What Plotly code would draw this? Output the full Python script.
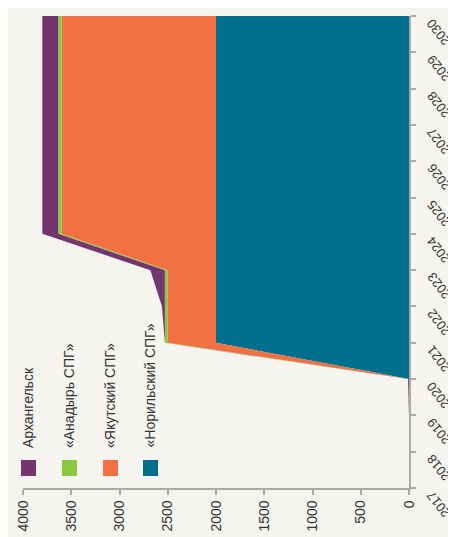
import plotly.graph_objects as go

years = [2017, 2018, 2019, 2020, 2021, 2022, 2023, 2024, 2025, 2026, 2027, 2028, 2029, 2030]
norilsk = [0, 0, 0, 0, 2000, 2000, 2000, 2000, 2000, 2000, 2000, 2000, 2000, 2000]
yakutsk = [0, 0, 0, 0, 500, 500, 500, 1600, 1600, 1600, 1600, 1600, 1600, 1600]
anadyr = [0, 0, 0, 0, 30, 30, 30, 35, 35, 35, 35, 35, 35, 35]
arkhangelsk = [0, 0, 0, 10, 0, 30, 150, 165, 165, 165, 165, 165, 165, 165]

series = [
    ("«Норильский СПГ»", norilsk, "#006f8e"),
    ("«Якутский СПГ»", yakutsk, "#f37043"),
    ("«Анадырь СПГ»", anadyr, "#8cc63f"),
    ("Архангельск", arkhangelsk, "#74366f"),
]
value_ticks = [0, 500, 1000, 1500, 2000, 2500, 3000, 3500, 4000]

# page is 456x537, the html body has an 8px margin
PAGE_W, PAGE_H = 456, 537
OFF = 8
W, H = PAGE_W - OFF, PAGE_H - OFF
# plot area in page pixels: x 23..409, y 16..488
PX0, PX1, PY0, PY1 = 23, 409, 16, 488
L, T = PX0 - OFF, PY0 - OFF
R, B = PAGE_W - PX1, PAGE_H - PY1
pw, ph = PX1 - PX0, PY1 - PY0

fig = go.Figure()
for name, vals, col in series:
    fig.add_trace(go.Scatter(
        x=vals, y=years, name=name, stackgroup="one", orientation="h",
        mode="lines", line=dict(width=0, color=col), fillcolor=col,
        showlegend=False))

font = dict(family="Liberation Sans, Arial, sans-serif", size=14, color="#333333")
year_font = dict(family="Liberation Sans, Arial, sans-serif", size=13, color="#333333")


def px_x(X):
    return (X - PX0) / pw


def px_y(Y):
    return (PY1 - Y) / ph


legend_order = ["Архангельск", "«Анадырь СПГ»", "«Якутский СПГ»", "«Норильский СПГ»"]
colors = {n: c for n, _, c in series}
centers = [28.5, 69.5, 110.5, 150.5]
for name, cx in zip(legend_order, centers):
    fig.add_shape(type="rect", xref="paper", yref="paper",
                  x0=px_x(cx - 7.5), x1=px_x(cx + 7.5),
                  y0=px_y(476), y1=px_y(460),
                  fillcolor=colors[name], line=dict(width=0))
    fig.add_annotation(xref="paper", yref="paper", x=px_x(cx - 1), y=px_y(450),
                       text=name, textangle=-90, showarrow=False,
                       xanchor="center", yanchor="bottom", font=font)

# year labels (rotated, end of text next to the tick)
for yr in years:
    fig.add_annotation(xref="paper", yref="y", x=px_x(421), y=yr,
                       text=str(yr), textangle=-128, showarrow=False,
                       xanchor="left", yanchor="top", yshift=3, font=year_font)

fig.update_layout(
    width=W, height=H,
    margin=dict(l=L, r=R, t=T, b=B, pad=0, autoexpand=False),
    paper_bgcolor="#f5f4ee", plot_bgcolor="#f5f4ee",
    font=font,
    xaxis=dict(range=[4000, 0], tickvals=value_ticks, tickangle=-90,
               showgrid=False, zeroline=False, showline=True, automargin=False,
               linecolor="#aaaaaa", linewidth=1.5, ticks="outside",
               tickcolor="#aaaaaa", ticklen=5, tickwidth=1.5, tickfont=font),
    yaxis=dict(range=[2017, 2030], tickvals=years, side="right",
               showticklabels=False, automargin=False,
               showgrid=False, zeroline=False, showline=True,
               linecolor="#aaaaaa", linewidth=1.5, ticks="outside",
               tickcolor="#aaaaaa", ticklen=5, tickwidth=1.5),
)

fig.write_html("out.html")
